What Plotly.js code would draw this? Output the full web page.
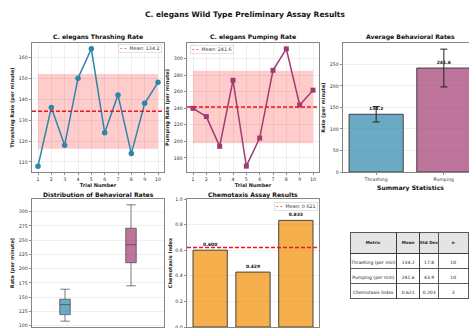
<!DOCTYPE html>
<html>
<head>
<meta charset="utf-8">
<script src="https://cdn.plot.ly/plotly-3.0.1.min.js"></script>
<style>
html,body{margin:0;padding:0;background:#fff;overflow:hidden;}
#wrap{width:469px;height:328px;overflow:hidden;position:relative;}
#chart{width:490px;height:350px;}
</style>
</head>
<body>
<div id="wrap"><div id="chart"></div></div>
<script>
// ---- data ----
const trials = [1, 2, 3, 4, 5, 6, 7, 8, 9, 10];
const thrashing = [108, 136, 118, 150, 164, 124, 142, 114, 138, 148];
const pumping = [240, 230, 194, 274, 170, 204, 286, 312, 244, 262];
const rateCategories = ['Thrashing', 'Pumping'];
const chemoCategories = ['Trial 1', 'Trial 2', 'Trial 3'];
const chemotaxis = [0.600, 0.429, 0.833];
const tableHeader = ['Metric', 'Mean', 'Std Dev', 'n'];
const tableMetrics = ['Thrashing (per min)', 'Pumping (per min)', 'Chemotaxis Index'];

// ---- stats ----
function mean(a){return a.reduce((s,v)=>s+v,0)/a.length;}
function std(a){const m=mean(a);return Math.sqrt(a.reduce((s,v)=>s+(v-m)*(v-m),0)/(a.length-1));}
function pct(a,p){const s=[...a].sort((x,y)=>x-y);const pos=(s.length-1)*p;const lo=Math.floor(pos),hi=Math.ceil(pos);return s[lo]+(s[hi]-s[lo])*(pos-lo);}
function boxStats(a){const q1=pct(a,0.25),q3=pct(a,0.75),med=pct(a,0.5),iqr=q3-q1;
  const lf=Math.min(...a.filter(v=>v>=q1-1.5*iqr)),uf=Math.max(...a.filter(v=>v<=q3+1.5*iqr));
  return {q1,q3,med,lf,uf};}
const nb=s=>s.replace(/ /g,'\u00a0');

const mT=mean(thrashing), sT=std(thrashing);
const mP=mean(pumping), sP=std(pumping);
const mC=mean(chemotaxis), sC=std(chemotaxis);
const bT=boxStats(thrashing), bP=boxStats(pumping);

// ---- layout helpers ----
const W=490, H=350;
const dx=px=>px/W, dy=py=>1-py/H;
const FONT='DejaVu Sans';
const blue='#2E86AB', mag='#A23B72';

function ax(opts){
  return Object.assign({
    showline:true, mirror:true, linecolor:'#666', linewidth:0.8,
    ticks:'outside', ticklen:2.5, tickwidth:0.6, tickcolor:'#444',
    tickfont:{family:FONT,size:4.7,color:'#333'},
    showgrid:true, gridcolor:'#e4e4e4', gridwidth:0.6,
    zeroline:false, automargin:false, fixedrange:true
  }, opts);
}
function atitle(t, standoff){return {text:'<b>'+t+'</b>', font:{family:FONT,size:5,color:'#222'}, standoff:standoff};}

const X1=[dx(32),dx(164)], X2=[dx(187),dx(319)], X3=[dx(343),dx(477)];
const Y1=[dy(172),dy(43)], Y2=[dy(327),dy(199)];

const traces=[
  // plot 1 band
  {type:'scatter',x:trials,y:trials.map(()=>mT+sT),mode:'lines',line:{width:0},showlegend:false,hoverinfo:'skip',xaxis:'x',yaxis:'y'},
  {type:'scatter',x:trials,y:trials.map(()=>mT-sT),mode:'lines',line:{width:0},fill:'tonexty',fillcolor:'rgba(255,0,0,0.2)',showlegend:false,hoverinfo:'skip',xaxis:'x',yaxis:'y'},
  {type:'scatter',x:trials,y:thrashing,mode:'lines+markers',line:{color:blue,width:1.5},marker:{color:blue,size:5.5,symbol:'circle'},showlegend:false,xaxis:'x',yaxis:'y'},
  // plot 2 band
  {type:'scatter',x:trials,y:trials.map(()=>mP+sP),mode:'lines',line:{width:0},showlegend:false,hoverinfo:'skip',xaxis:'x2',yaxis:'y2'},
  {type:'scatter',x:trials,y:trials.map(()=>mP-sP),mode:'lines',line:{width:0},fill:'tonexty',fillcolor:'rgba(255,0,0,0.2)',showlegend:false,hoverinfo:'skip',xaxis:'x2',yaxis:'y2'},
  {type:'scatter',x:trials,y:pumping,mode:'lines+markers',line:{color:mag,width:1.5},marker:{color:mag,size:5,symbol:'square'},showlegend:false,xaxis:'x2',yaxis:'y2'},
  // plot 3 bars
  {type:'bar',x:rateCategories,y:[mT,mP],width:0.8,
   marker:{color:['rgba(46,134,171,0.7)','rgba(162,59,114,0.7)'],line:{color:'#333',width:0.9}},
   error_y:{type:'data',array:[sT,sP],color:'#222',thickness:1,width:3.5},
   texttemplate:'<b>%{y:.1f}</b>',textposition:'outside',textfont:{family:FONT,size:4.5,color:'#111'},cliponaxis:false,
   showlegend:false,xaxis:'x3',yaxis:'y3'},
  // plot 4 boxes
  {type:'box',x:[1],q1:[bT.q1],median:[bT.med],q3:[bT.q3],lowerfence:[bT.lf],upperfence:[bT.uf],width:0.16,whiskerwidth:0.9,
   fillcolor:'rgba(46,134,171,0.7)',line:{color:'#444',width:0.7},showlegend:false,xaxis:'x4',yaxis:'y4'},
  {type:'box',x:[2],q1:[bP.q1],median:[bP.med],q3:[bP.q3],lowerfence:[bP.lf],upperfence:[bP.uf],width:0.16,whiskerwidth:0.9,
   fillcolor:'rgba(162,59,114,0.7)',line:{color:'#444',width:0.7},showlegend:false,xaxis:'x4',yaxis:'y4'},
  // plot 5 bars
  {type:'bar',x:chemoCategories,y:chemotaxis,width:0.8,
   marker:{color:'rgba(241,143,1,0.7)',line:{color:'#333',width:0.9}},
   texttemplate:'<b>%{y:.3f}</b>',textposition:'outside',textfont:{family:FONT,size:4.5,color:'#111'},cliponaxis:false,
   showlegend:false,xaxis:'x5',yaxis:'y5'},
  // table
  {type:'table',domain:{x:[dx(350),dx(468)],y:[dy(300),dy(232)]},
   columnwidth:[46.7,23.3,18.7,29.7],
   header:{values:tableHeader.map(h=>'<b>'+nb(h)+'</b>'),align:'center',height:15,
     fill:{color:'#e4e4e4'},line:{color:'#333',width:0.8},font:{family:FONT,size:4.1,color:'#222'}},
   cells:{values:[tableMetrics.map(nb),
       [mT.toFixed(1),mP.toFixed(1),mC.toFixed(3)],
       [sT.toFixed(1),sP.toFixed(1),sC.toFixed(3)],
       [String(thrashing.length),String(pumping.length),String(chemotaxis.length)]],
     align:'center',height:15,fill:{color:'white'},line:{color:'#333',width:0.8},font:{family:FONT,size:4.5,color:'#222'}}}
];

function meanLine(xr,yr,m){return {type:'line',xref:xr+' domain',yref:yr,x0:0,x1:1,y0:m,y1:m,line:{color:'#e8191c',width:1.4,dash:'4px,2px'},layer:'above'};}
function legendBox(text,x,y,xanchor){
  return {xref:'paper',yref:'paper',x:x,y:y,xanchor:xanchor,yanchor:'top',showarrow:false,
    text:'<span style="color:#e8191c"><b>– –</b></span>  '+text,
    font:{family:FONT,size:4.8,color:'#333'},bgcolor:'rgba(255,255,255,0.9)',bordercolor:'#cfcfcf',borderwidth:0.6,borderpad:1.5};
}
function title(t,xpx,ypx,size){return {xref:'paper',yref:'paper',x:dx(xpx),y:dy(ypx),xanchor:'center',yanchor:'middle',showarrow:false,
  text:'<b>'+t+'</b>',font:{family:FONT,size:size||6.1,color:'#111'}};}

const layout={
  width:W,height:H,margin:{l:0,r:0,t:0,b:0},paper_bgcolor:'white',plot_bgcolor:'white',
  showlegend:false,font:{family:FONT},
  xaxis:ax({domain:X1,anchor:'y',range:[0.55,10.45],dtick:1,tick0:1,title:atitle('Trial Number',2)}),
  yaxis:ax({domain:Y1,anchor:'x',range:[105.2,166.8],dtick:10,title:atitle('Thrashing Rate (per minute)',3)}),
  xaxis2:ax({domain:X2,anchor:'y2',range:[0.55,10.45],dtick:1,tick0:1,title:atitle('Trial Number',2)}),
  yaxis2:ax({domain:Y1,anchor:'x2',range:[162.9,319.1],dtick:20,title:atitle('Pumping Rate (per minute)',3)}),
  xaxis3:ax({domain:X3,anchor:'y3',type:'category',range:[-0.49,1.49],showgrid:false}),
  yaxis3:ax({domain:Y1,anchor:'x3',range:[0,299.8],dtick:50,title:atitle('Rate (per minute)',3)}),
  xaxis4:ax({domain:X1,anchor:'y4',range:[0.5,2.5],tickvals:[1,2],ticktext:rateCategories,showgrid:false,showticklabels:false}),
  yaxis4:ax({domain:Y2,anchor:'x4',range:[97.8,322.2],dtick:25,title:atitle('Rate (per minute)',3)}),
  xaxis5:ax({domain:X2,anchor:'y5',type:'category',range:[-0.54,2.54],showgrid:false,showticklabels:false}),
  yaxis5:ax({domain:Y2,anchor:'x5',range:[0,1],dtick:0.2,tickformat:'.1f',title:atitle('Chemotaxis Index',2)}),
  shapes:[meanLine('x','y',mT),meanLine('x2','y2',mP),meanLine('x5','y5',mC)],
  annotations:[
    title('C. elegans Wild Type Preliminary Assay Results',245,15,7.5),
    title('C. elegans Thrashing Rate',98,37.5),
    title('C. elegans Pumping Rate',253,37.5),
    title('Average Behavioral Rates',410,37.5),
    title('Distribution of Behavioral Rates',98,194.5),
    title('Chemotaxis Assay Results',253,194.5),
    title('Summary Statistics',410,188),
    legendBox('Mean: '+mT.toFixed(1),dx(162),dy(44),'right'),
    legendBox('Mean: '+mP.toFixed(1),dx(190),dy(45),'left'),
    legendBox('Mean: '+mC.toFixed(3),dx(318),dy(201.5),'right')
  ]
};
Plotly.newPlot('chart',traces,layout,{displayModeBar:false,staticPlot:true});
</script>
</body>
</html>
